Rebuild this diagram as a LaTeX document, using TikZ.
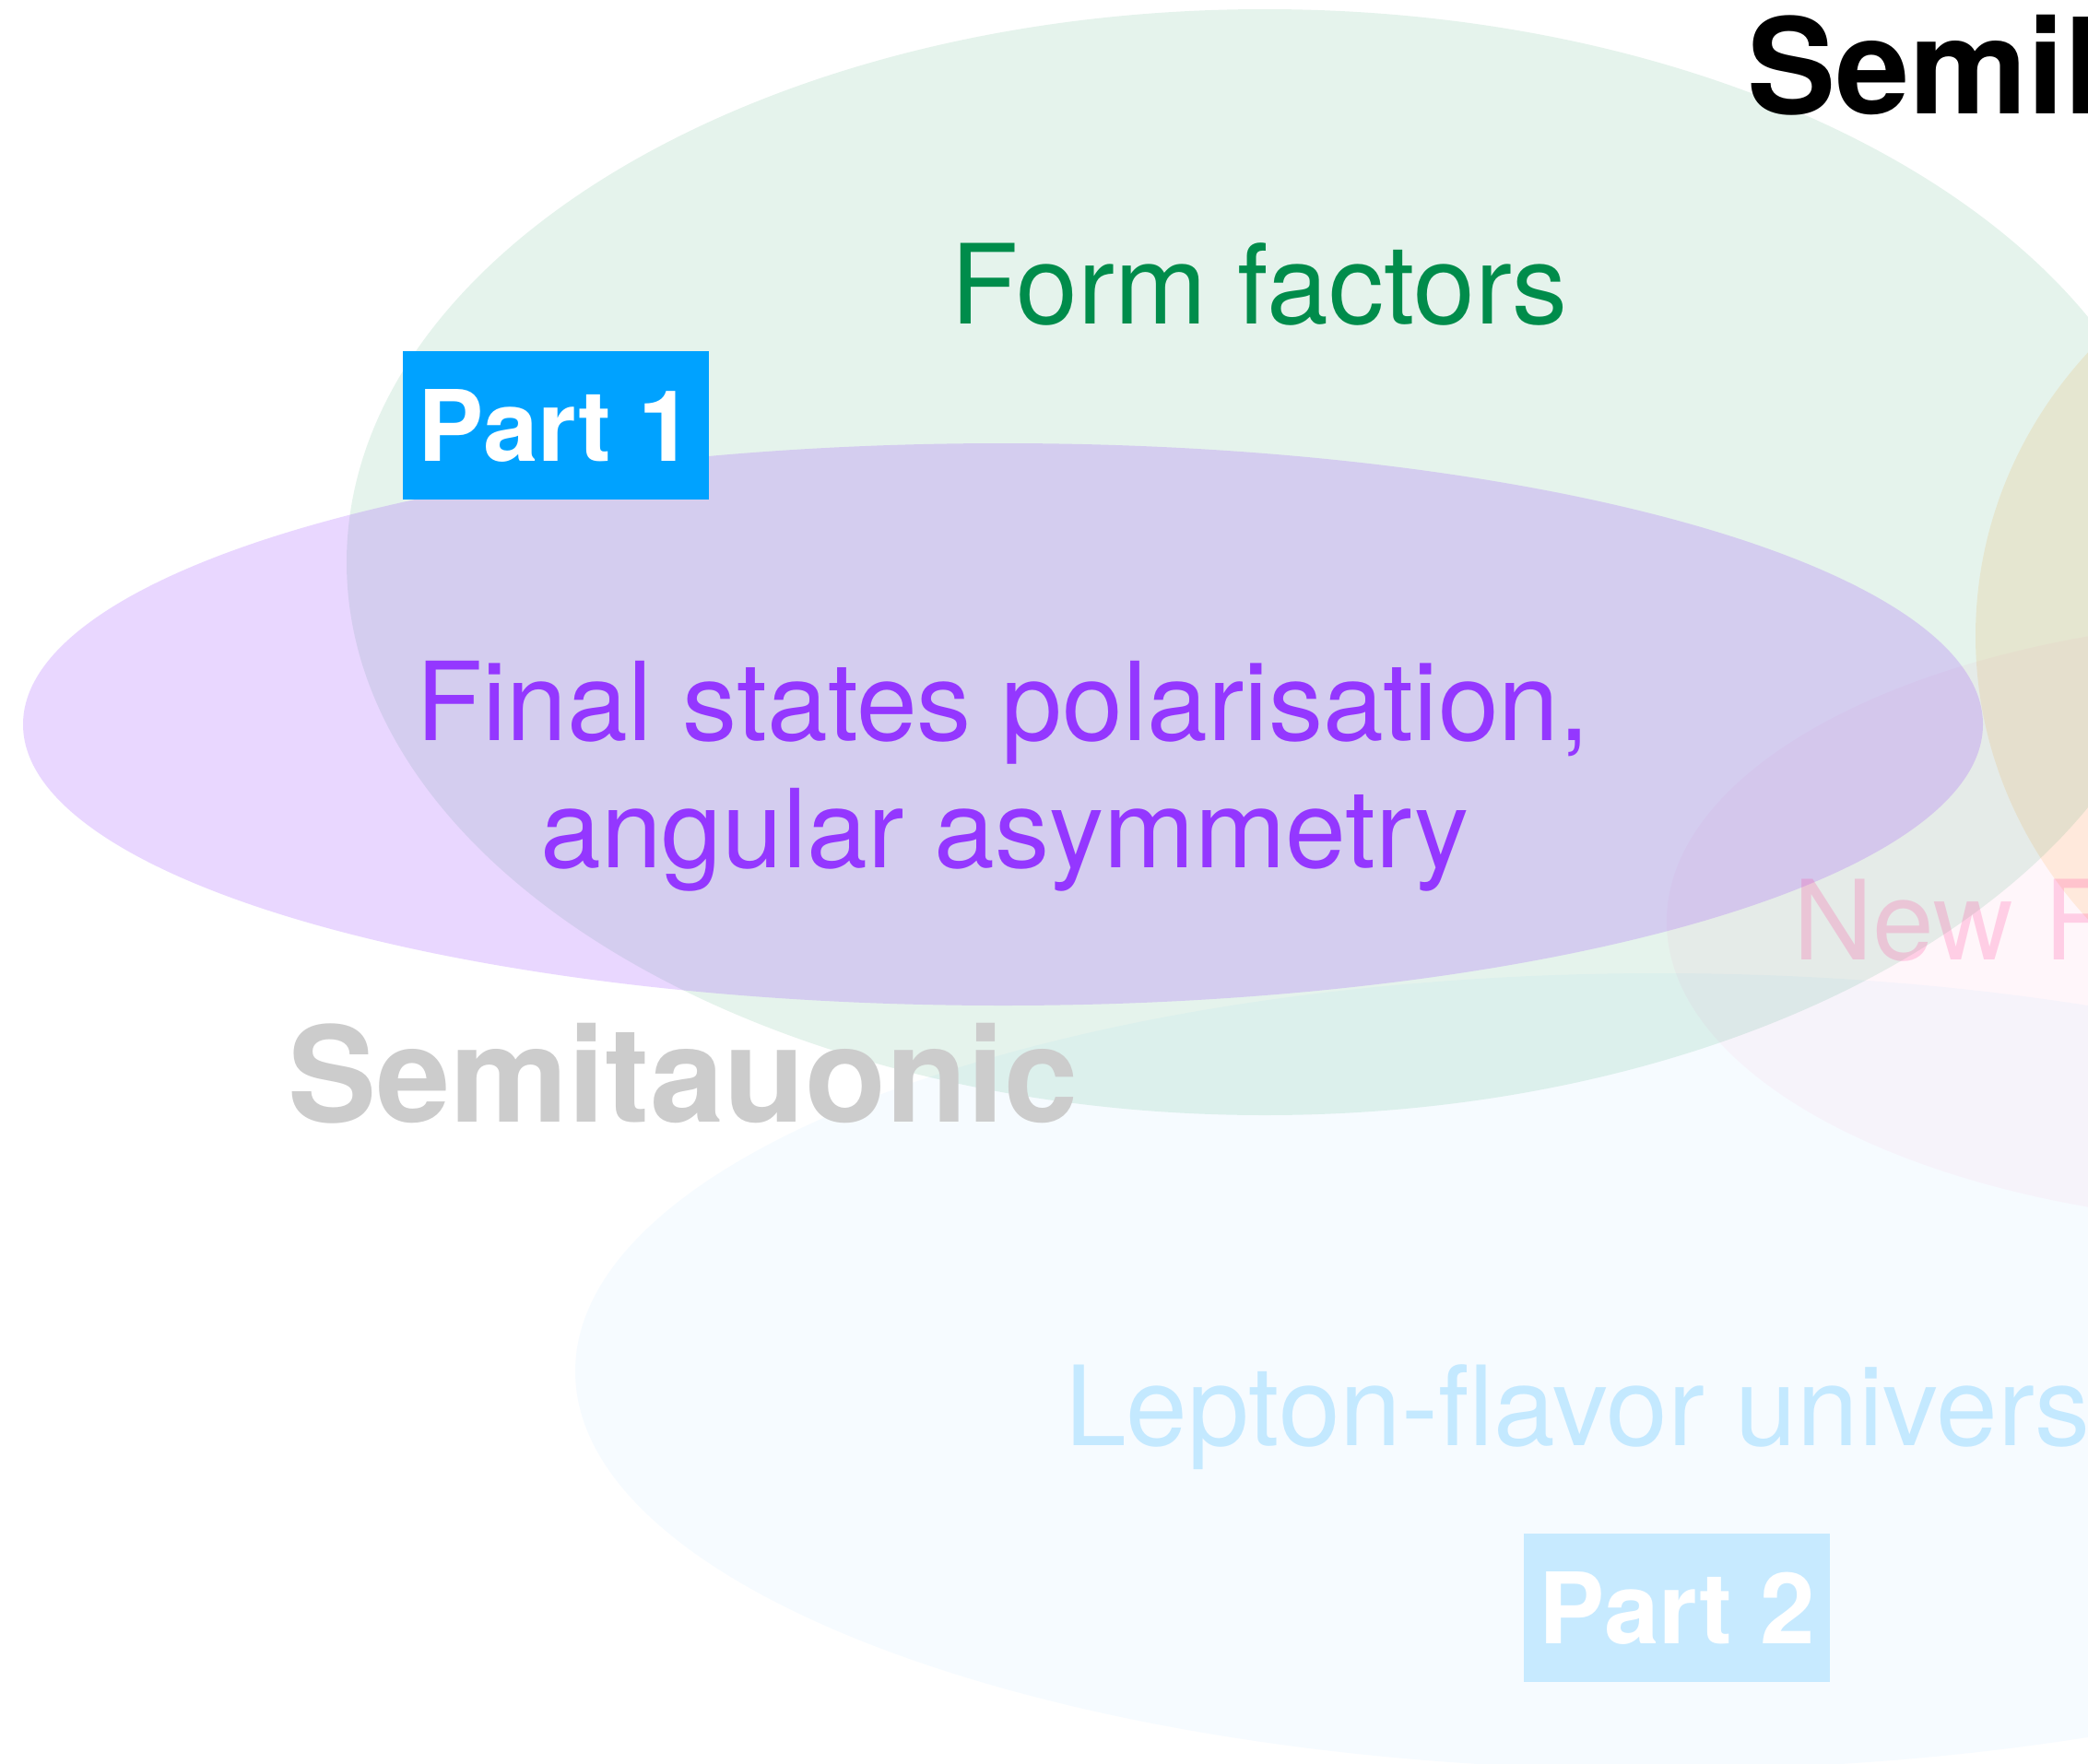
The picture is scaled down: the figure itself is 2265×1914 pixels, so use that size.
\documentclass[tikz,border=0pt]{standalone}
\usepackage{fontspec}
\setmainfont{TeX Gyre Heros}
\definecolor{clover}{RGB}{0,140,75}
\definecolor{grape}{RGB}{148,55,255}
\definecolor{aqua}{RGB}{0,162,255}
\definecolor{tangerine}{RGB}{255,147,0}
\definecolor{strawberry}{RGB}{255,47,146}
\definecolor{lgray}{RGB}{204,204,204}
\begin{document}
\begin{tikzpicture}[x=1pt,y=-1pt,
  lbl/.style={inner sep=0pt, font=\fontsize{120}{144}\selectfont},
  plbl/.style={inner sep=0pt, font=\fontsize{118.3}{142}\selectfont},
  bigword/.style={inner sep=0pt, font=\fontsize{144}{173}\selectfont\bfseries},
  partbox/.style={minimum width=332pt, minimum height=161pt, inner sep=0pt, text=white, font=\fontsize{107}{128}\selectfont\bfseries}]
\useasboundingbox (0,0) rectangle (2265,1914);
\fill[white] (0,0) rectangle (2265,1914);
\clip (0,0) rectangle (2265,1914);
% ellipses (orange and pink lie beneath the green one)
\fill[tangerine, fill opacity=0.12] (2643,690) ellipse [x radius=500, y radius=470];
\fill[strawberry, fill opacity=0.04] (2508,1000) ellipse [x radius=700, y radius=330];
\fill[clover, fill opacity=0.10] (1372,610) ellipse [x radius=996, y radius=600];
\fill[grape, fill opacity=0.20] (1088,786) ellipse [x radius=1063, y radius=305];
\fill[aqua, fill opacity=0.035] (1800,1488) ellipse [x radius=1176, y radius=432];
% texts
\node[lbl, text=clover, anchor=base] (ff) at (1366,351) {Form factors};
\node[plbl, text=grape, anchor=base] (fs1) at (1088,803) {Final states polarisation,};
\node[plbl, text=grape, anchor=base] (fs2) at (1090,941) {angular asymmetry};
\node[bigword, text=lgray, anchor=base west] (stau) at (312,1217) {Semitauonic};
\node[bigword, text=black, anchor=base west] (sl) at (1895,123) {Semil};
\node[lbl, text=strawberry, text opacity=0.2, anchor=base west] (np) at (1945,1041) {New F};
\node[lbl, text=aqua, text opacity=0.2, anchor=base west] (lfu) at (1155,1568) {Lepton-flavor univers};
\node[partbox, fill=aqua] (p1) at (603,461.5) {Part 1};
\node[partbox, fill=aqua, fill opacity=0.19, text opacity=1] (p2) at (1819,1744.5) {Part 2};
\end{tikzpicture}
\end{document}
